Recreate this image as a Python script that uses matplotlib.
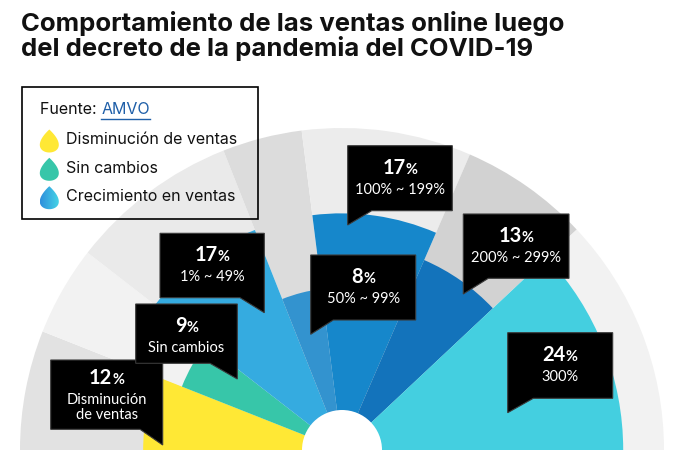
import numpy as np
import matplotlib.pyplot as plt
from matplotlib.patches import Wedge, Circle, Polygon, Rectangle
from matplotlib.colors import LinearSegmentedColormap

# datos (AMVO)
categorias = ["Disminución de ventas", "Sin cambios", "1% ~ 49%", "50% ~ 99%",
              "100% ~ 199%", "200% ~ 299%", "300%"]
porcentajes = [12, 9, 17, 8, 17, 13, 24]
textos_caja = ["Disminución\nde ventas", "Sin cambios", "1% ~ 49%", "50% ~ 99%",
               "100% ~ 199%", "200% ~ 299%", "300%"]
leyenda = ["Disminución de ventas", "Sin cambios", "Crecimiento en ventas"]

colores = ["#FFE835", "#37C6A9", "#35ABE0", "#3393CF", "#1687CB", "#1373BB", "#44CFE0"]
fondos = ["#E2E2E2", "#F2F2F2", "#EAEAEA", "#DCDCDC", "#ECECEC", "#D2D2D2", "#F2F2F2"]

# caja: izquierda, arriba, ancho, alto, lado de la punta, largo punta, ancho punta
cajas = [
    (50.7, 360, 112, 69.3, "der", 15.7, 22.7),
    (135.7, 304, 101.6, 59.3, "der", 15.7, 27.3),
    (160, 233.3, 104.3, 64.4, "der", 15, 24.3),
    (310.7, 255, 105, 65, "izq", 14.3, 22.6),
    (347.7, 145.7, 104.6, 65, "izq", 14.3, 24),
    (463.3, 214, 105.7, 64.3, "izq", 15.7, 25),
    (507.7, 332.7, 105, 65.6, "izq", 14.4, 25.6),
]

W, H = 681, 471
CX, CY = 342, 450
R_EXT = 322
R_HUECO = 40
K = 57.4  # radio ~ raiz del porcentaje

fig = plt.figure(figsize=(W / 100, H / 100), dpi=100)
ax = fig.add_axes([0, 0, 1, 1])
ax.set_xlim(0, W)
ax.set_ylim(H, 0)
ax.axis("off")

# semicirculo: angulos proporcionales al porcentaje
fin = np.cumsum(porcentajes)
ini = fin - np.array(porcentajes)
total = sum(porcentajes)
a_alto = 180 - ini / total * 180
a_bajo = 180 - fin / total * 180

for i, v in enumerate(porcentajes):
    # eje y invertido -> angulos negativos
    ax.add_patch(Wedge((CX, CY), R_EXT, -a_alto[i], -a_bajo[i], fc=fondos[i], ec="none", zorder=1))
for i, v in enumerate(porcentajes):
    ax.add_patch(Wedge((CX, CY), K * np.sqrt(v), -a_alto[i], -a_bajo[i], fc=colores[i], ec="none", zorder=2))
ax.add_patch(Circle((CX, CY), R_HUECO, fc="white", ec="none", zorder=3))
ax.add_patch(Rectangle((0, CY), W, H - CY, fc="white", ec="none", zorder=3))

renderer = fig.canvas.get_renderer()


def ancho(t):
    return t.get_window_extent(renderer).width


def caja(i, left, top, w, h, lado, punta, dx):
    right, bottom = left + w, top + h
    if lado == "der":
        pts = [(left, top), (right, top), (right, bottom + punta), (right - dx, bottom), (left, bottom)]
    else:
        pts = [(left, top), (right, top), (right, bottom), (left + dx, bottom), (left, bottom + punta)]
    ax.add_patch(Polygon(pts, closed=True, fc="black", ec="#3a3a3a", lw=0.8, zorder=5))
    xc = left + w / 2
    lineas = textos_caja[i].split("\n")
    y0 = top + 28 - 3.5 * (len(lineas) - 1)
    t1 = ax.text(0, y0, str(porcentajes[i]), family="Lato", fontweight="bold", fontsize=14.5,
                 color="white", va="baseline", ha="left", zorder=6)
    t2 = ax.text(0, y0, "%", family="Lato", fontweight="bold", fontsize=10.5,
                 color="white", va="baseline", ha="left", zorder=6)
    w1, w2 = ancho(t1), ancho(t2)
    x0 = xc - (w1 + w2) / 2
    t1.set_x(x0)
    t2.set_x(x0 + w1)
    for j, ln in enumerate(lineas):
        ax.text(xc, y0 + 20 + 14.7 * j, ln, family="Lato", fontsize=10.5, color="white",
                ha="center", va="baseline", zorder=6)


for i, c in enumerate(cajas):
    caja(i, *c)

# titulo
ax.text(21, 31, "Comportamiento de las ventas online luego", family="Inter", fontweight="bold",
        fontsize=18.5, color="#111111", va="baseline")
ax.text(21, 56, "del decreto de la pandemia del COVID-19", family="Inter", fontweight="bold",
        fontsize=18.5, color="#111111", va="baseline")

# leyenda
ax.add_patch(Rectangle((21.5, 86.5), 236.5, 132.5, fc="none", ec="black", lw=1.2, zorder=7))
tf = ax.text(40, 110, "Fuente: ", family="Inter", fontsize=11.5, color="#111111", va="center", zorder=7)
xa = 40 + ancho(tf)
ta = ax.text(xa, 110, "AMVO", family="Inter", fontsize=11.5, color="#1F5FA8", va="center", zorder=7)
ax.plot([xa, xa + ancho(ta)], [118.5, 118.5], color="#1F5FA8", lw=1, zorder=7)

t = np.linspace(0, 2 * np.pi, 80)
gx = np.sin(t) * np.sin(t / 2)
gx = gx / np.abs(gx).max()
gy = -np.cos(t)
filas = [140, 168.3, 196.7]
colores_gota = ["#FFE835", "#37C6A9", None]
for k, lab in enumerate(leyenda):
    yc = filas[k]
    pts = np.column_stack([49.3 + 9.5 * gx, yc + 1 + 11.5 * gy])
    gota = Polygon(pts, closed=True, fc=colores_gota[k] or "none", ec="none", zorder=7)
    ax.add_patch(gota)
    if colores_gota[k] is None:
        cmap = LinearSegmentedColormap.from_list("g", ["#2E8FDC", "#45D3E6"])
        img = ax.imshow(np.linspace(0, 1, 50)[None, :], cmap=cmap, aspect="auto",
                        extent=[39.8, 58.8, yc + 13, yc - 11], zorder=7)
        img.set_clip_path(gota)
    ax.text(65.7, yc, lab, family="Inter", fontsize=11.5, color="#111111", va="center", zorder=7)

ax.set_xlim(0, W)
ax.set_ylim(H, 0)
fig.savefig("out.png", dpi=100)
